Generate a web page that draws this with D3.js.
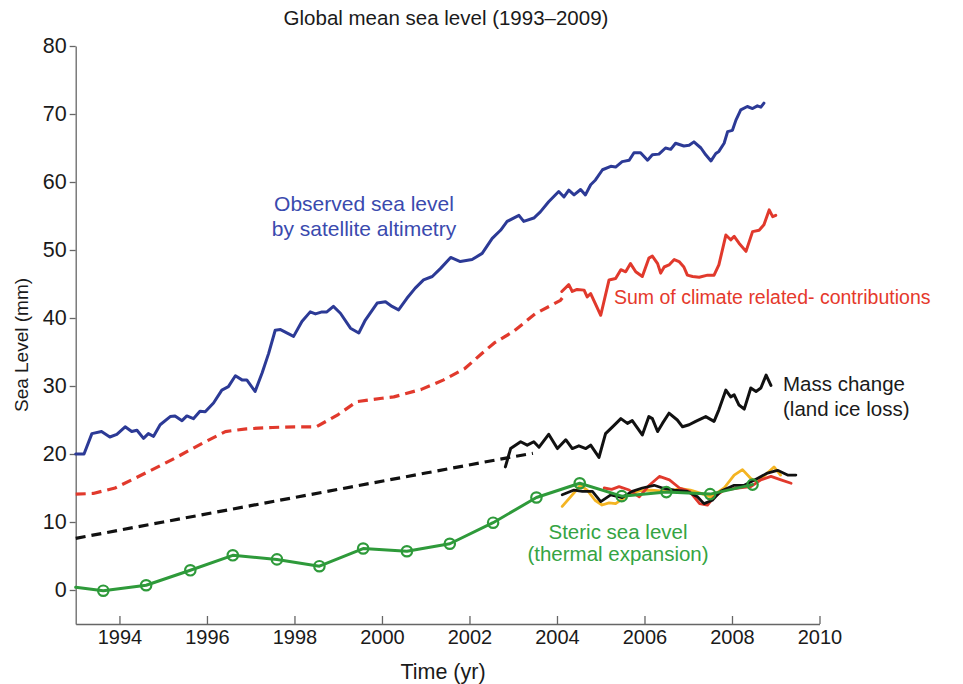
<!DOCTYPE html>
<html>
<head>
<meta charset="utf-8">
<script src="https://cdn.jsdelivr.net/npm/d3@7"></script>
<style>
  html, body { margin: 0; padding: 0; background: #fff; }
  svg { display: block; font-family: "Liberation Sans", Arial, Helvetica, sans-serif; }
</style>
</head>
<body>
<svg id="chart" width="963" height="684"></svg>
<script>
// Satellite altimetry (mm), [year, value]
const observed = [
  [1993.00,20.0],[1993.19,20.0],[1993.37,23.0],[1993.59,23.3],[1993.78,22.5],[1993.94,22.9],
  [1994.13,24.0],[1994.28,23.3],[1994.40,23.5],[1994.55,22.3],[1994.66,23.0],[1994.78,22.6],
  [1994.93,24.3],[1995.16,25.5],[1995.27,25.6],[1995.43,24.9],[1995.54,25.6],[1995.69,25.2],
  [1995.84,26.3],[1995.96,26.2],[1996.15,27.5],[1996.34,29.4],[1996.49,29.9],[1996.65,31.5],
  [1996.80,30.9],[1996.91,30.9],[1997.10,29.2],[1997.26,31.9],[1997.41,34.8],[1997.56,38.2],
  [1997.68,38.3],[1997.98,37.3],[1998.17,39.5],[1998.36,40.9],[1998.48,40.6],[1998.63,40.9],
  [1998.74,40.9],[1998.89,41.7],[1999.05,40.7],[1999.28,38.5],[1999.47,37.8],[1999.62,39.7],
  [1999.89,42.2],[2000.08,42.4],[2000.23,41.7],[2000.38,41.2],[2000.57,42.9],[2000.76,44.4],
  [2000.95,45.6],[2001.15,46.1],[2001.34,47.3],[2001.57,48.9],[2001.79,48.3],[2002.06,48.6],
  [2002.29,49.5],[2002.52,51.7],[2002.71,52.9],[2002.86,54.2],[2003.13,55.1],[2003.24,54.2],
  [2003.47,54.7],[2003.62,55.6],[2003.81,57.1],[2004.04,58.6],[2004.16,57.8],[2004.27,58.8],
  [2004.39,58.1],[2004.54,58.9],[2004.65,58.1],[2004.77,59.6],[2004.88,60.3],[2005.04,61.8],
  [2005.23,62.3],[2005.34,62.2],[2005.49,63.0],[2005.65,63.2],[2005.76,64.3],[2005.91,64.3],
  [2006.07,63.2],[2006.18,64.0],[2006.33,64.1],[2006.48,65.0],[2006.60,64.8],[2006.71,65.7],
  [2006.90,65.3],[2007.02,65.4],[2007.13,65.9],[2007.29,65.0],[2007.40,64.0],[2007.52,63.1],
  [2007.63,64.2],[2007.70,64.5],[2007.82,65.7],[2007.90,67.4],[2008.01,67.6],[2008.09,69.1],
  [2008.20,70.6],[2008.35,71.1],[2008.47,70.8],[2008.58,71.2],[2008.66,71.0],[2008.73,71.6]
];

// Sum of climate-related contributions, estimated period (dashed)
const sumEstimated = [
  [1993.0,14.1],[1993.4,14.2],[1993.9,15.0],[1994.47,16.8],[1995.0,18.5],[1995.27,19.4],
  [1995.9,21.6],[1996.42,23.3],[1996.9,23.7],[1997.5,23.9],[1998.0,24.0],[1998.5,24.0],
  [1999.0,25.8],[1999.42,27.7],[2000.0,28.2],[2000.27,28.4],[2000.9,29.5],[2001.41,30.9],
  [2001.9,32.6],[2002.25,34.6],[2002.56,36.3],[2003.0,38.0],[2003.5,40.6],[2004.08,42.6],
  [2004.15,43.2]
];

// Sum of climate-related contributions, measured period (solid)
const sumMeasured = [
  [2004.11,43.9],[2004.27,44.9],[2004.35,43.9],[2004.46,44.2],[2004.62,44.1],[2004.69,43.1],
  [2004.77,43.6],[2005.00,40.4],[2005.19,45.6],[2005.34,45.8],[2005.46,47.1],[2005.57,46.8],
  [2005.68,48.0],[2005.80,46.8],[2005.95,46.1],[2006.10,48.8],[2006.18,49.1],[2006.30,48.0],
  [2006.37,46.6],[2006.45,47.5],[2006.56,47.8],[2006.68,48.6],[2006.79,48.3],[2006.90,47.5],
  [2006.98,46.3],[2007.10,46.1],[2007.25,46.0],[2007.44,46.3],[2007.59,46.3],[2007.70,47.8],
  [2007.86,52.2],[2007.97,51.5],[2008.05,52.0],[2008.16,51.0],[2008.32,49.8],[2008.47,52.7],
  [2008.62,52.9],[2008.73,53.7],[2008.85,55.9],[2008.93,54.9],[2009.00,55.1]
];

// Mass change (land ice loss), trend estimate (dashed)
const massEstimated = [
  [1993.0,7.6],[1995.0,10.0],[1997.0,12.4],[1999.0,14.8],[2001.0,17.2],[2003.0,19.6],[2003.45,20.1]
];

// Mass change (land ice loss), GRACE period (solid)
const massMeasured = [
  [2002.82,18.1],[2002.94,20.8],[2003.17,21.8],[2003.32,21.3],[2003.47,21.8],[2003.59,21.0],
  [2003.81,22.9],[2004.01,20.8],[2004.20,22.1],[2004.35,20.8],[2004.50,21.2],[2004.66,20.8],
  [2004.77,21.3],[2004.96,19.5],[2005.11,23.0],[2005.27,24.0],[2005.46,25.2],[2005.61,24.5],
  [2005.72,24.9],[2005.95,22.8],[2006.10,25.5],[2006.18,25.2],[2006.30,23.3],[2006.41,24.5],
  [2006.56,26.0],[2006.75,25.0],[2006.87,24.0],[2007.02,24.3],[2007.17,24.8],[2007.40,25.5],
  [2007.59,24.8],[2007.70,26.5],[2007.86,29.4],[2007.97,28.4],[2008.05,28.7],[2008.16,27.2],
  [2008.28,26.6],[2008.43,29.7],[2008.55,29.2],[2008.66,29.7],[2008.78,31.6],[2008.89,30.1]
];

// Steric sea level, annual means (first point is the series start, no marker)
const stericAnnual = [
  [1993.00,0.4],[1993.63,-0.1],[1994.61,0.7],[1995.62,2.9],[1996.59,5.1],[1997.60,4.5],
  [1998.57,3.5],[1999.57,6.1],[2000.57,5.7],[2001.55,6.8],[2002.54,9.9],[2003.53,13.6],
  [2004.52,15.7],[2005.48,13.8],[2006.50,14.4],[2007.50,14.1],[2008.47,15.5]
];

// Steric sea level, Argo-based monthly estimates
const stericYellow = [
  [2004.12,12.3],[2004.31,13.7],[2004.54,15.4],[2004.69,14.7],[2004.87,13.2],[2005.03,12.5],
  [2005.19,12.8],[2005.34,12.7],[2005.50,13.4],[2005.69,14.2],[2005.91,14.6],[2006.14,14.7],
  [2006.52,14.5],[2006.82,14.9],[2007.05,14.7],[2007.29,14.2],[2007.52,13.7],[2007.82,15.0],
  [2008.05,16.9],[2008.24,17.7],[2008.43,16.4],[2008.58,15.9],[2008.81,17.2],[2008.96,18.1],
  [2009.11,16.9]
];
const stericRed = [
  [2005.08,15.0],[2005.25,14.8],[2005.42,15.2],[2005.65,14.7],[2005.88,13.7],[2006.11,15.4],
  [2006.34,16.7],[2006.57,16.2],[2006.80,15.0],[2007.03,14.5],[2007.26,12.7],[2007.44,12.5],
  [2007.59,13.7],[2007.82,14.7],[2008.13,15.0],[2008.43,15.2],[2008.66,16.2],[2008.89,16.7],
  [2009.12,16.2],[2009.35,15.7]
];
const stericBlack = [
  [2004.12,14.0],[2004.39,14.7],[2004.58,14.5],[2004.81,14.5],[2005.00,13.0],[2005.23,14.0],
  [2005.49,13.6],[2005.72,14.5],[2005.95,15.0],[2006.22,15.4],[2006.41,15.0],[2006.68,14.7],
  [2006.98,14.5],[2007.21,13.7],[2007.36,12.7],[2007.55,13.2],[2007.74,14.5],[2008.05,15.4],
  [2008.28,15.4],[2008.58,16.4],[2008.81,17.2],[2009.04,17.6],[2009.27,16.9],[2009.46,16.9]
];

const xTicks = [1994, 1996, 1998, 2000, 2002, 2004, 2006, 2008, 2010];
const yTicks = [0, 10, 20, 30, 40, 50, 60, 70, 80];

const svg = d3.select("#chart");
svg.append("rect").attr("width", 963).attr("height", 684).attr("fill", "#fff");

const x = d3.scaleLinear().domain([1993, 2010]).range([75.7, 819.5]);
const y = d3.scaleLinear().domain([-5, 80]).range([624, 46]);

const line = d3.line().x(d => x(d[0])).y(d => y(d[1]));

// Axes
const axisColor = "#666";
const gx = svg.append("g").attr("transform", `translate(0,${y(-5)})`)
  .call(d3.axisBottom(x).tickValues(xTicks).tickFormat(d3.format("d"))
        .tickSizeInner(-8).tickSizeOuter(0).tickPadding(6));
const gy = svg.append("g").attr("transform", `translate(${x(1993)},0)`)
  .call(d3.axisLeft(y).tickValues(yTicks).tickSizeInner(6).tickSizeOuter(0).tickPadding(3));
[gx, gy].forEach(g => {
  g.select(".domain").attr("stroke", axisColor).attr("stroke-width", 1.3);
  g.selectAll(".tick line").attr("stroke", axisColor).attr("stroke-width", 1.3);
  g.selectAll(".tick text").attr("fill", "#1a1a1a")
    .attr("font-family", "'Liberation Sans', Arial, sans-serif");
});
gx.selectAll(".tick text").attr("font-size", 20);
gy.selectAll(".tick text").attr("font-size", 21.5);

// Series
function draw(data, color, width, dash) {
  svg.append("path").datum(data)
    .attr("d", line)
    .attr("fill", "none")
    .attr("stroke", color)
    .attr("stroke-width", width)
    .attr("stroke-linejoin", "round")
    .attr("stroke-linecap", dash ? "butt" : "round")
    .attr("stroke-dasharray", dash || null);
}

const cBlue = "#2c3a96", cRed = "#e1392c", cBlack = "#111111",
      cGreen = "#2e9a3a", cYellow = "#f4b422";

draw(observed, cBlue, 3);
draw(sumEstimated, cRed, 3.2, "10,6");
draw(sumMeasured, cRed, 3);
draw(massEstimated, cBlack, 3.2, "10,6");
draw(massMeasured, cBlack, 3);
draw(stericYellow, cYellow, 2.8);
draw(stericRed, cRed, 2.8);
draw(stericBlack, cBlack, 2.8);
draw(stericAnnual, cGreen, 3);

svg.append("g").selectAll("circle")
  .data(stericAnnual.slice(1))
  .join("circle")
  .attr("cx", d => x(d[0]))
  .attr("cy", d => y(d[1]))
  .attr("r", 5.2)
  .attr("fill", "none")
  .attr("stroke", cGreen)
  .attr("stroke-width", 2.2);

// Text
function label(lines, px, py, color, size, anchor, gap) {
  const t = svg.append("text")
    .attr("x", px).attr("y", py)
    .attr("fill", color)
    .attr("font-size", size)
    .attr("text-anchor", anchor || "middle");
  lines.forEach((s, i) => t.append("tspan").attr("x", px).attr("dy", i ? (gap || 25) : 0).text(s));
}

label(["Global mean sea level (1993\u20132009)"], 446, 25, "#1a1a1a", 20.5);
label(["Observed sea level", "by satellite altimetry"], 364, 211, "#3a4aae", 21, "middle", 25);
label(["Sum of climate related- contributions"], 614, 304, "#e5392c", 19.5, "start");
label(["Mass change", "(land ice loss)"], 783, 391, "#1a1a1a", 20.5, "start", 25);
label(["Steric sea level", "(thermal expansion)"], 618, 539, "#35a443", 20.5, "middle", 22);

svg.append("text")
  .attr("x", 443).attr("y", 679)
  .attr("text-anchor", "middle")
  .attr("font-size", 21.5)
  .attr("fill", "#1a1a1a")
  .text("Time (yr)");

svg.append("text")
  .attr("transform", `translate(28,345) rotate(-90)`)
  .attr("text-anchor", "middle")
  .attr("font-size", 19)
  .attr("fill", "#1a1a1a")
  .text("Sea Level (mm)");
</script>
</body>
</html>
